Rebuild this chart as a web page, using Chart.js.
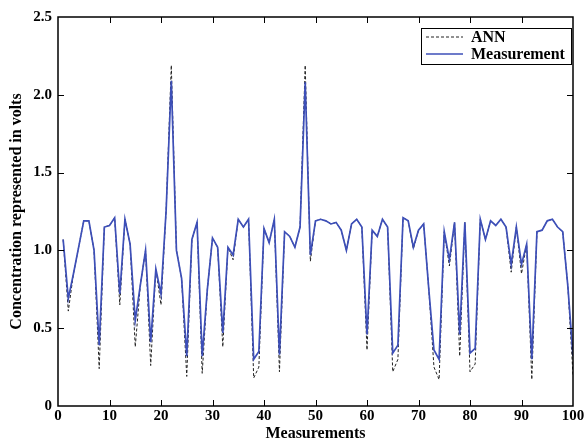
<!DOCTYPE html>
<html>
<head>
<meta charset="utf-8">
<script src="https://cdn.jsdelivr.net/npm/chart.js@4.4.0/dist/chart.umd.min.js"></script>
<style>
  html, body { margin: 0; padding: 0; background: #fff; }
  #wrap { width: 585px; height: 443px; }
</style>
</head>
<body>
<div id="wrap"><canvas id="chart"></canvas></div>
<script>
// measurement index (x)
const measurementNo = [
  1, 2, 3, 4, 5, 6, 7, 8, 9, 10, 11, 12, 13, 14, 15, 16, 17, 18, 19, 20,
  21, 22, 23, 24, 25, 26, 27, 28, 29, 30, 31, 32, 33, 34, 35, 36, 37, 38, 39, 40,
  41, 42, 43, 44, 45, 46, 47, 48, 49, 50, 51, 52, 53, 54, 55, 56, 57, 58, 59, 60,
  61, 62, 63, 64, 65, 66, 67, 68, 69, 70, 71, 72, 73, 74, 75, 76, 77, 78, 79, 80,
  81, 82, 83, 84, 85, 86, 87, 88, 89, 90, 91, 92, 93, 94, 95, 96, 97, 98, 99, 100
];

const measured = [
  1.07, 0.69, 0.85, 1.02, 1.19, 1.19, 1.00, 0.39, 1.15, 1.16,
  1.21, 0.72, 1.20, 1.04, 0.55, 0.78, 1.00, 0.41, 0.88, 0.72,
  1.26, 2.09, 1.00, 0.82, 0.32, 1.07, 1.18, 0.32, 0.75, 1.08,
  1.02, 0.47, 1.02, 0.97, 1.20, 1.15, 1.20, 0.30, 0.35, 1.14,
  1.05, 1.20, 0.33, 1.12, 1.09, 1.02, 1.15, 2.08, 0.97, 1.19,
  1.20, 1.19, 1.17, 1.18, 1.13, 1.00, 1.17, 1.20, 1.15, 0.46,
  1.13, 1.09, 1.20, 1.15, 0.34, 0.39, 1.21, 1.19, 1.02, 1.13,
  1.17, 0.75, 0.36, 0.30, 1.12, 0.94, 1.18, 0.46, 1.18, 0.34,
  0.37, 1.20, 1.07, 1.19, 1.16, 1.20, 1.15, 0.91, 1.15, 0.91,
  1.04, 0.30, 1.12, 1.13, 1.19, 1.20, 1.15, 1.12, 0.77, 0.32
];

const annOutput = [
  1.07, 0.61, 0.85, 1.02, 1.19, 1.19, 1.00, 0.24, 1.15, 1.16,
  1.21, 0.65, 1.20, 1.04, 0.38, 0.78, 1.00, 0.26, 0.88, 0.65,
  1.26, 2.19, 1.00, 0.82, 0.19, 1.07, 1.18, 0.21, 0.75, 1.08,
  1.02, 0.38, 1.02, 0.94, 1.20, 1.15, 1.20, 0.18, 0.25, 1.14,
  1.05, 1.20, 0.22, 1.12, 1.09, 1.02, 1.15, 2.19, 0.93, 1.19,
  1.20, 1.19, 1.17, 1.18, 1.13, 1.00, 1.17, 1.20, 1.15, 0.36,
  1.13, 1.09, 1.20, 1.15, 0.22, 0.30, 1.21, 1.19, 1.01, 1.13,
  1.17, 0.75, 0.25, 0.17, 1.12, 0.90, 1.18, 0.32, 1.18, 0.22,
  0.27, 1.20, 1.07, 1.19, 1.16, 1.20, 1.15, 0.86, 1.15, 0.85,
  1.04, 0.17, 1.12, 1.13, 1.19, 1.20, 1.15, 1.12, 0.77, 0.20
];

const xTicks = [0, 10, 20, 30, 40, 50, 60, 70, 80, 90, 100];
const yTicks = [0, 0.5, 1.0, 1.5, 2.0, 2.5];
const yTickLabels = ['0', '0.5', '1.0', '1.5', '2.0', '2.5'];

const serif = '"Liberation Serif", "Times New Roman", serif';
const blue = '#3d4fb8';

// box round the plot with inward tick marks on all four sides
const frameTicks = {
  id: 'frameTicks',
  afterDatasetsDraw(chart) {
    const { ctx, chartArea: a, scales: { x, y } } = chart;
    const len = 6;
    ctx.save();
    ctx.strokeStyle = '#000';
    ctx.lineWidth = 1;
    ctx.beginPath();
    xTicks.forEach(v => {
      if (v === xTicks[0] || v === xTicks[xTicks.length - 1]) return;
      const px = Math.round(x.getPixelForValue(v)) + 0.5;
      ctx.moveTo(px, a.bottom); ctx.lineTo(px, a.bottom - len);
      ctx.moveTo(px, a.top); ctx.lineTo(px, a.top + len);
    });
    yTicks.forEach(v => {
      if (v === yTicks[0] || v === yTicks[yTicks.length - 1]) return;
      const py = Math.round(y.getPixelForValue(v)) + 0.5;
      ctx.moveTo(a.left, py); ctx.lineTo(a.left + len, py);
      ctx.moveTo(a.right, py); ctx.lineTo(a.right - len, py);
    });
    ctx.stroke();
    ctx.lineWidth = 1.5;
    ctx.strokeRect(a.left, a.top, a.right - a.left, a.bottom - a.top);
    ctx.restore();
  }
};

// legend box in the upper right corner of the plot
const boxLegend = {
  id: 'boxLegend',
  afterDraw(chart) {
    const { ctx, chartArea: a } = chart;
    const ds = chart.data.datasets;
    const right = a.right - 2, left = 421, top = a.top + 11, h = 36;
    ctx.save();
    ctx.fillStyle = '#fff';
    ctx.fillRect(left, top, right - left, h);
    ctx.strokeStyle = '#000';
    ctx.lineWidth = 1;
    ctx.strokeRect(left + 0.5, top + 0.5, right - left, h);
    ctx.font = 'bold 16px ' + serif;
    ctx.textBaseline = 'middle';
    ds.forEach((d, i) => {
      const yy = top + 9 + i * 17;
      ctx.beginPath();
      ctx.strokeStyle = d.borderColor;
      ctx.lineWidth = d.borderWidth;
      ctx.setLineDash(d.borderDash || []);
      ctx.moveTo(left + 5, yy); ctx.lineTo(left + 42, yy);
      ctx.stroke();
      ctx.setLineDash([]);
      ctx.fillStyle = '#000';
      ctx.fillText(d.label, left + 50, yy + 1);
    });
    ctx.restore();
  }
};

new Chart(document.getElementById('chart'), {
  type: 'line',
  data: {
    datasets: [
      {
        label: 'ANN',
        data: measurementNo.map((n, i) => ({ x: n, y: annOutput[i] })),
        borderColor: '#222',
        borderWidth: 1,
        borderDash: [3, 2],
        pointRadius: 0,
        tension: 0,
        order: 2
      },
      {
        label: 'Measurement',
        data: measurementNo.map((n, i) => ({ x: n, y: measured[i] })),
        borderColor: blue,
        borderWidth: 1.7,
        pointRadius: 0,
        tension: 0,
        order: 1
      }
    ]
  },
  options: {
    responsive: true,
    maintainAspectRatio: false,
    animation: false,
    layout: { padding: { left: 0, right: 12, top: 17, bottom: 0 } },
    plugins: {
      legend: { display: false },
      tooltip: { enabled: false }
    },
    scales: {
      x: {
        type: 'linear',
        min: 0,
        max: 100,
        afterBuildTicks(scale) { scale.ticks = xTicks.map(v => ({ value: v })); },
        afterFit(scale) { scale.height = 37; scale.paddingLeft = 0; scale.paddingRight = 0; },
        grid: { display: false, drawTicks: false },
        border: { display: false },
        ticks: {
          color: '#000',
          padding: 1,
          maxRotation: 0,
          font: { family: serif, size: 15, weight: 'bold' }
        },
        title: {
          display: true,
          text: 'Measurements',
          color: '#000',
          padding: { top: 0, bottom: 0 },
          font: { family: serif, size: 16, weight: 'bold' }
        }
      },
      y: {
        min: 0,
        max: 2.5,
        afterBuildTicks(scale) { scale.ticks = yTicks.map(v => ({ value: v })); },
        afterFit(scale) { scale.width = 58; },
        grid: { display: false, drawTicks: false },
        border: { display: false },
        ticks: {
          color: '#000',
          padding: 6,
          font: { family: serif, size: 15, weight: 'bold' },
          callback: (v) => yTickLabels[yTicks.indexOf(v)]
        },
        title: {
          display: true,
          text: 'Concentration represented in volts',
          color: '#000',
          padding: { top: 7, bottom: 0 },
          font: { family: serif, size: 16, weight: 'bold' }
        }
      }
    }
  },
  plugins: [frameTicks, boxLegend]
});
</script>
</body>
</html>
